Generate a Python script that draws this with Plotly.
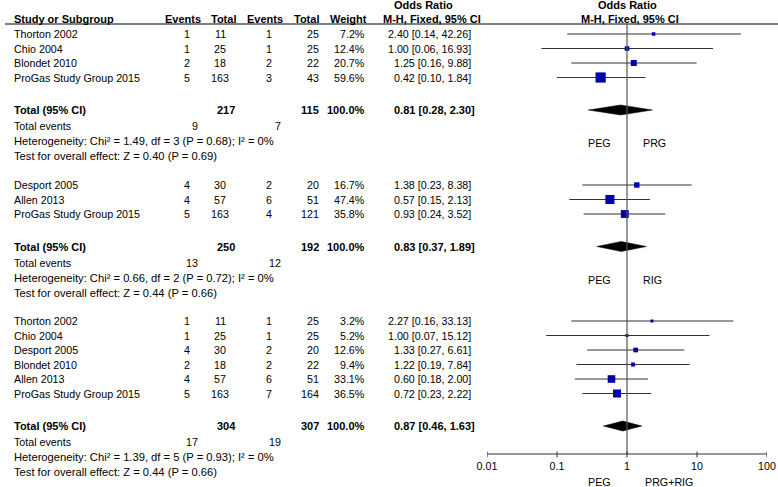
import math
import plotly.graph_objects as go

# ---------------- data ----------------
g1_studies = ["Thorton 2002", "Chio 2004", "Blondet 2010", "ProGas Study Group 2015"]
g1_peg_events = [1, 1, 2, 5]
g1_peg_total = [11, 25, 18, 163]
g1_ctl_events = [1, 1, 2, 3]
g1_ctl_total = [25, 25, 22, 43]
g1_weight = [7.2, 12.4, 20.7, 59.6]
g1_or = [2.40, 1.00, 1.25, 0.42]
g1_lo = [0.14, 0.06, 0.16, 0.10]
g1_hi = [42.26, 16.93, 9.88, 1.84]
g1_total = {"peg_n": 217, "ctl_n": 115, "peg_ev": 9, "ctl_ev": 7, "or": 0.81, "lo": 0.28, "hi": 2.30,
            "het": "Heterogeneity: Chi² = 1.49, df = 3 (P = 0.68); I² = 0%",
            "test": "Test for overall effect: Z = 0.40 (P = 0.69)", "ctl_label": "PRG"}

g2_studies = ["Desport 2005", "Allen 2013", "ProGas Study Group 2015"]
g2_peg_events = [4, 4, 5]
g2_peg_total = [30, 57, 163]
g2_ctl_events = [2, 6, 4]
g2_ctl_total = [20, 51, 121]
g2_weight = [16.7, 47.4, 35.8]
g2_or = [1.38, 0.57, 0.93]
g2_lo = [0.23, 0.15, 0.24]
g2_hi = [8.38, 2.13, 3.52]
g2_total = {"peg_n": 250, "ctl_n": 192, "peg_ev": 13, "ctl_ev": 12, "or": 0.83, "lo": 0.37, "hi": 1.89,
            "het": "Heterogeneity: Chi² = 0.66, df = 2 (P = 0.72); I² = 0%",
            "test": "Test for overall effect: Z = 0.44 (P = 0.66)", "ctl_label": "RIG"}

g3_studies = ["Thorton 2002", "Chio 2004", "Desport 2005", "Blondet 2010", "Allen 2013", "ProGas Study Group 2015"]
g3_peg_events = [1, 1, 4, 2, 4, 5]
g3_peg_total = [11, 25, 30, 18, 57, 163]
g3_ctl_events = [1, 1, 2, 2, 6, 7]
g3_ctl_total = [25, 25, 20, 22, 51, 164]
g3_weight = [3.2, 5.2, 12.6, 9.4, 33.1, 36.5]
g3_or = [2.27, 1.00, 1.33, 1.22, 0.60, 0.72]
g3_lo = [0.16, 0.07, 0.27, 0.19, 0.18, 0.23]
g3_hi = [33.13, 15.12, 6.61, 7.84, 2.00, 2.22]
g3_total = {"peg_n": 304, "ctl_n": 307, "peg_ev": 17, "ctl_ev": 19, "or": 0.87, "lo": 0.46, "hi": 1.63,
            "het": "Heterogeneity: Chi² = 1.39, df = 5 (P = 0.93); I² = 0%",
            "test": "Test for overall effect: Z = 0.44 (P = 0.66)", "ctl_label": None}

axis_ticks = [0.01, 0.1, 1, 10, 100]
axis_ticktext = ["0.01", "0.1", "1", "10", "100"]
bottom_left_label = "PEG"
bottom_right_label = "PRG+RIG"

# ---------------- layout constants ----------------
W, H = 778, 487
FONT = "Liberation Sans, Arial, sans-serif"
FS = 10.7
FSB = 11
SQ_COLOR = "#0000AA"
LINE_COLOR = "#333333"

groups = [
    (g1_studies, g1_peg_events, g1_peg_total, g1_ctl_events, g1_ctl_total, g1_weight, g1_or, g1_lo, g1_hi, g1_total, 34),
    (g2_studies, g2_peg_events, g2_peg_total, g2_ctl_events, g2_ctl_total, g2_weight, g2_or, g2_lo, g2_hi, g2_total, 185),
    (g3_studies, g3_peg_events, g3_peg_total, g3_ctl_events, g3_ctl_total, g3_weight, g3_or, g3_lo, g3_hi, g3_total, 321),
]
STEP = 14.5
AXIS_Y = 454
HEADER_LINE_Y = 24

fig = go.Figure()
ann = []


def txt(x, y, s, anchor="left", bold=False, xref="x2", xshift=0, size=None):
    ann.append(dict(x=x, y=y, xref=xref, yref="y", text=("<b>%s</b>" % s) if bold else s,
                    showarrow=False, xanchor=anchor, yanchor="middle", xshift=xshift,
                    font=dict(family=FONT, size=size or (FSB if bold else FS), color="black")))


# headers
txt(423, 5, "Odds Ratio", "center", bold=True)
txt(0, 5, "Odds Ratio", "center", bold=True, xref="x")
txt(12, 19, "Study or Subgroup", "left", bold=True)
txt(183, 19, "Events", "center", bold=True)
txt(223, 19, "Total", "center", bold=True)
txt(265, 19, "Events", "center", bold=True)
txt(306, 19, "Total", "center", bold=True)
txt(348, 19, "Weight", "center", bold=True)
txt(432, 19, "M-H, Fixed, 95% CI", "center", bold=True)
txt(0, 19, "M-H, Fixed, 95% CI", "center", bold=True, xref="x", xshift=3)

fig.add_trace(go.Scatter(x=[5, W], y=[HEADER_LINE_Y, HEADER_LINE_Y], xaxis="x2", yaxis="y", mode="lines",
                         line=dict(color="#555555", width=1.3), hoverinfo="skip", showlegend=False, cliponaxis=False))

for (studies, pe, pn, ce, cn, wt, orr, lo, hi, tot, y0) in groups:
    ys = [y0 + i * STEP for i in range(len(studies))]
    ci_x, ci_y = [], []
    for i, s in enumerate(studies):
        y = ys[i]
        txt(12, y, s, "left")
        txt(192, y, str(pe[i]), "right")
        txt(220, y, str(pn[i]), "center")
        txt(269, y, str(ce[i]), "center")
        txt(321, y, str(cn[i]), "right")
        txt(367, y, "%.1f%%" % wt[i], "right")
        txt(473, y, "%.2f [%.2f, %.2f]" % (orr[i], lo[i], hi[i]), "right")
        ci_x += [lo[i], hi[i], None]
        ci_y += [y, y, None]
    fig.add_trace(go.Scatter(x=ci_x, y=ci_y, xaxis="x", yaxis="y", mode="lines",
                             line=dict(color=LINE_COLOR, width=1), hoverinfo="skip", showlegend=False))
    fig.add_trace(go.Scatter(x=orr, y=ys, xaxis="x", yaxis="y", mode="markers",
                             marker=dict(symbol="square", color=SQ_COLOR, opacity=1,
                                         size=[max(3, 1.32 * math.sqrt(w)) for w in wt],
                                         line=dict(width=0)),
                             hoverinfo="skip", showlegend=False))
    ty = ys[-1] + 32.5
    txt(12, ty, "Total (95% CI)", "left", bold=True)
    txt(226, ty, str(tot["peg_n"]), "center", bold=True)
    txt(321, ty, str(tot["ctl_n"]), "right", bold=True)
    txt(367, ty, "100.0%", "right", bold=True)
    txt(477, ty, "%.2f [%.2f, %.2f]" % (tot["or"], tot["lo"], tot["hi"]), "right", bold=True)
    fig.add_trace(go.Scatter(x=[tot["lo"], tot["or"], tot["hi"], tot["or"], tot["lo"]],
                             y=[ty, ty - 5, ty, ty + 5, ty], xaxis="x", yaxis="y", mode="lines",
                             fill="toself", fillcolor="black", line=dict(color="black", width=0.5),
                             hoverinfo="skip", showlegend=False))
    ey = ty + 16
    txt(12, ey, "Total events", "left")
    txt(200, ey, str(tot["peg_ev"]), "right")
    txt(283, ey, str(tot["ctl_ev"]), "right")
    txt(12, ey + 15, tot["het"], "left", size=11.2)
    txt(12, ey + 30, tot["test"], "left", size=11.2)
    if tot["ctl_label"]:
        txt(0, ty + 33, "PEG", "right", xref="x", xshift=-14)
        txt(0, ty + 33, tot["ctl_label"], "left", xref="x", xshift=14)

# vertical line of no effect
fig.add_trace(go.Scatter(x=[1, 1], y=[HEADER_LINE_Y, AXIS_Y], xaxis="x", yaxis="y", mode="lines",
                         line=dict(color="#555555", width=1.2), hoverinfo="skip", showlegend=False))

# axis line with crossing tick marks
ax_x = [axis_ticks[0], axis_ticks[-1], None]
ax_y = [AXIS_Y, AXIS_Y, None]
for t in axis_ticks:
    ax_x += [t, t, None]
    ax_y += [AXIS_Y - 2.5, AXIS_Y + 3.5, None]
fig.add_trace(go.Scatter(x=ax_x, y=ax_y, xaxis="x", yaxis="y", mode="lines",
                         line=dict(color="#333333", width=1), hoverinfo="skip", showlegend=False,
                         cliponaxis=False))

# bottom labels
txt(0, 482, bottom_left_label, "right", xref="x", xshift=-14)
txt(0, 482, bottom_right_label, "left", xref="x", xshift=16)

fig.update_layout(
    width=W, height=H, margin=dict(l=0, r=0, t=0, b=0, pad=0, autoexpand=False),
    paper_bgcolor="white", plot_bgcolor="rgba(0,0,0,0)",
    annotations=ann,
    xaxis=dict(type="log", range=[-2, 2], domain=[487 / W, 767 / W], anchor="free",
               position=(H - AXIS_Y) / H, showgrid=False, zeroline=False,
               showline=False, ticks="", ticklabelstandoff=4,
               tickvals=axis_ticks, ticktext=axis_ticktext,
               tickfont=dict(family=FONT, size=FS, color="black"), fixedrange=True),
    xaxis2=dict(range=[0, W], domain=[0, 1], anchor="y", visible=False, fixedrange=True),
    yaxis=dict(range=[H, 0], domain=[0, 1], anchor="x2", visible=False, fixedrange=True),
)

fig.write_html("out.html", config={"displayModeBar": False},
               post_script="document.body.style.margin='0';document.body.style.padding='0';")
